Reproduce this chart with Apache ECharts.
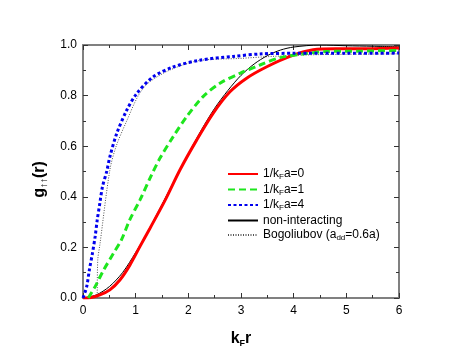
<!DOCTYPE html>
<html>
<head>
<meta charset="utf-8">
<script src="https://cdn.jsdelivr.net/npm/echarts@6/dist/echarts.min.js"></script>
<style>
  html, body { margin: 0; padding: 0; background: #fff; }
  #chart { width: 463px; height: 358px; }
</style>
</head>
<body>
<div id="chart"></div>
<script>
// values
const xTicks = [0, 1, 2, 3, 4, 5, 6]
const yTicks = [0.0, 0.2, 0.4, 0.6, 0.8, 1.0]

const xRed = [0, 0.13, 0.32, 0.51, 0.70, 0.89, 1.08, 1.27, 1.56, 1.84, 2.16, 2.47, 2.79, 3.1, 3.49, 3.93, 4.37, 4.8, 5.4, 6.0]
const gRed = [0, 0.001, 0.012, 0.032, 0.071, 0.13, 0.203, 0.275, 0.387, 0.506, 0.625, 0.73, 0.815, 0.868, 0.914, 0.955, 0.981, 0.985, 0.985, 0.988]

const xGreen = [0.1, 0.23, 0.39, 0.58, 0.73, 0.89, 1.08, 1.30, 1.46, 1.71, 1.97, 2.28, 2.60, 2.98, 3.36, 3.74, 4.2, 4.62, 5.3, 6.0]
const gGreen = [0, 0.045, 0.11, 0.177, 0.23, 0.31, 0.387, 0.486, 0.552, 0.637, 0.717, 0.796, 0.849, 0.888, 0.921, 0.95, 0.965, 0.974, 0.976, 0.978]

const xBlue = [0, 0.07, 0.12, 0.18, 0.23, 0.27, 0.32, 0.37, 0.45, 0.51, 0.64, 0.83, 1.02, 1.33, 1.71, 2.22, 2.85, 3.4, 4.0, 5.0, 6.0]
const gBlue = [0, 0.045, 0.11, 0.178, 0.242, 0.308, 0.375, 0.44, 0.5, 0.558, 0.65, 0.742, 0.808, 0.874, 0.913, 0.94, 0.955, 0.965, 0.967, 0.967, 0.968]

const xFree = [0, 0.25, 0.5, 0.75, 1, 1.25, 1.5, 1.75, 2, 2.25, 2.5, 2.75, 3, 3.25, 3.5, 3.75, 4, 4.5, 5, 5.5, 6]
const gFree = [0, 0.012, 0.045, 0.1, 0.18, 0.27, 0.37, 0.47, 0.57, 0.665, 0.75, 0.82, 0.88, 0.925, 0.958, 0.98, 0.992, 1.0, 0.997, 0.995, 0.993]

const xBogo = [0.27, 0.28, 0.32, 0.51, 0.63, 0.83, 1.05, 1.24, 1.64, 2.19, 2.98, 3.6, 4.5, 6.0]
const gBogo = [0, 0.15, 0.21, 0.506, 0.6, 0.7, 0.8, 0.85, 0.9, 0.938, 0.947, 0.955, 0.962, 0.965]

const names = ['1/k{s|F}a=0', '1/k{s|F}a=1', '1/k{s|F}a=4', 'non-interacting', 'Bogoliubov (a{s|dd}=0.6a)']

const zip = (xs, ys) => xs.map((x, i) => [x, ys[i]])

const chart = echarts.init(document.getElementById('chart'))

const font = 'Liberation Sans, Arial, sans-serif'
const axisLine = { show: true, onZero: false, lineStyle: { color: '#808080', width: 2 } }
const axisTick = { show: true, inside: true, length: 5, lineStyle: { color: '#333' } }
const minorTick = { show: true, splitNumber: 2, length: 3, lineStyle: { color: '#333' } }

const mkLine = (name, data, color, width, type) => ({
  name,
  type: 'line',
  data,
  smooth: 0.3,
  symbol: 'none',
  showSymbol: false,
  lineStyle: { color, width, type, cap: 'butt' },
  itemStyle: { color }
})

const option = {
  animation: false,
  textStyle: { fontFamily: font },
  grid: { left: 83, right: 64, top: 45, bottom: 60 },
  legend: {
    orient: 'vertical',
    left: 222,
    top: 163,
    itemWidth: 30,
    itemHeight: 12,
    itemGap: 2.5,
    itemStyle: { opacity: 0 },
    data: names,
    textStyle: {
      fontSize: 12,
      color: '#000',
      rich: { s: { fontSize: 8, padding: [6, 0, 0, 0] } }
    }
  },
  xAxis: [{
    type: 'value',
    min: 0,
    max: 6,
    interval: 1,
    name: 'k{s|F}r',
    nameLocation: 'middle',
    nameGap: 32,
    nameTextStyle: {
      fontSize: 16,
      fontWeight: 'bold',
      color: '#000',
      rich: { s: { fontSize: 9, fontWeight: 'bold', padding: [9, 0, 0, 0] } }
    },
    axisLine,
    axisTick,
    minorTick,
    splitLine: { show: false },
    axisLabel: { fontSize: 12, color: '#000', margin: 7 }
  }, {
    type: 'value',
    position: 'top',
    min: 0,
    max: 6,
    interval: 1,
    axisLine,
    axisTick,
    minorTick,
    splitLine: { show: false },
    axisLabel: { show: false }
  }],
  yAxis: [{
    type: 'value',
    min: 0,
    max: 1,
    interval: 0.2,
    name: 'g{s|↑↑}(r)',
    nameLocation: 'middle',
    nameGap: 32,
    nameRotate: 90,
    nameTextStyle: {
      fontSize: 16,
      fontWeight: 'bold',
      color: '#000',
      padding: [0, 16, 0, 0],
      rich: { s: { fontSize: 10, fontWeight: 'bold', padding: [9, 0, 0, 0] } }
    },
    axisLine,
    axisTick,
    minorTick,
    splitLine: { show: false },
    axisLabel: {
      fontSize: 12,
      color: '#000',
      margin: 6,
      formatter: v => v.toFixed(1)
    }
  }, {
    type: 'value',
    position: 'right',
    min: 0,
    max: 1,
    interval: 0.2,
    axisLine,
    axisTick,
    minorTick,
    splitLine: { show: false },
    axisLabel: { show: false }
  }],
  series: [
    mkLine(names[4], zip(xBogo, gBogo), '#555555', 1, [1, 1.5]),
    mkLine(names[3], zip(xFree, gFree), '#000000', 1, 'solid'),
    mkLine(names[0], zip(xRed, gRed), '#ff0000', 3, 'solid'),
    mkLine(names[1], zip(xGreen, gGreen), '#1ee61e', 3, [7, 4]),
    mkLine(names[2], zip(xBlue, gBlue), '#0000ee', 3, [3, 2.5])
  ]
}

chart.setOption(option)
</script>
</body>
</html>
